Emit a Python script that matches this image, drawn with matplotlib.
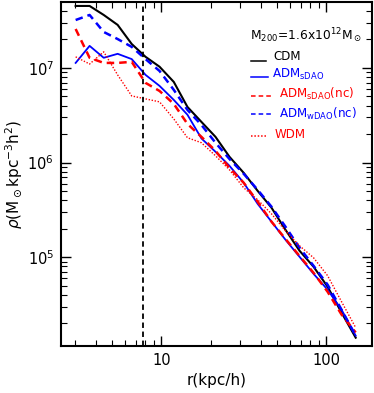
import matplotlib
matplotlib.use('Agg')
import matplotlib.pyplot as plt
from matplotlib.ticker import FuncFormatter, NullFormatter

plt.rcParams['font.family'] = ['DejaVu Sans']
plt.rcParams['mathtext.fontset'] = 'dejavusans'

# radius bins (kpc/h)
r = [3.02, 3.67, 4.47, 5.43, 6.61, 8.02, 9.75, 11.9, 14.4, 17.5, 21.3,
     25.9, 31.6, 38.4, 46.6, 56.6, 68.9, 83.8, 102, 124, 151]

rho_cdm = [4.52e7, 4.52e7, 3.63e7, 2.85e7, 1.79e7, 1.31e7, 1.03e7, 7.11e6,
           3.87e6, 2.69e6, 1.87e6, 1.15e6, 7.78e5, 5.02e5, 3.33e5, 1.95e5,
           1.17e5, 7.93e4, 4.87e4, 2.59e4, 1.41e4]
rho_sdao = [1.13e7, 1.71e7, 1.28e7, 1.41e7, 1.24e7, 8.44e6, 6.46e6, 4.59e6,
            3.20e6, 1.80e6, 1.30e6, 9.23e5, 6.11e5, 3.66e5, 2.37e5, 1.53e5,
            1.01e5, 6.68e4, 4.53e4, 2.78e4, 1.48e4]
rho_sdao_nc = [2.58e7, 1.28e7, 1.13e7, 1.13e7, 1.16e7, 6.95e6, 5.71e6, 4.17e6,
               2.56e6, 1.87e6, 1.33e6, 8.79e5, 6.11e5, 3.85e5, 2.37e5, 1.56e5,
               1.03e5, 6.84e4, 4.31e4, 2.47e4, 1.6e4]
rho_wdao_nc = [3.21e7, 3.63e7, 2.40e7, 2.02e7, 1.67e7, 1.24e7, 9.29e6, 5.86e6,
               3.60e6, 2.50e6, 1.62e6, 1.09e6, 7.60e5, 5.15e5, 3.41e5, 2.10e5,
               1.26e5, 8.11e4, 5.12e4, 2.78e4, 1.48e4]
rho_wdm = [1.31e7, 1.10e7, 1.48e7, 8.44e6, 5.06e6, 4.71e6, 4.38e6, 2.89e6,
           1.83e6, 1.62e6, 1.18e6, 8.38e5, 5.41e5, 4.04e5, 2.87e5, 1.90e5,
           1.32e5, 9.87e4, 6.37e4, 3.38e4, 1.80e4]

r_cut = 7.7

labels = ['CDM', r'ADM$_{\rm sDAO}$', r'ADM$_{\rm sDAO}$(nc)',
          r'ADM$_{\rm wDAO}$(nc)', 'WDM']
colors = ['black', 'blue', 'red', 'blue', 'red']
dash = (0, (3, 2))
dot = (0, (1, 1.2))
styles = ['-', '-', dash, dash, dot]

fig = plt.figure(figsize=(3.74, 3.93), dpi=100)
ax = fig.add_axes([0.163, 0.12, 0.832, 0.875])

ax.plot(r, rho_cdm, color='black', lw=1.5)
ax.plot(r, rho_sdao, color='blue', lw=1.3)
ax.plot(r, rho_sdao_nc, color='red', lw=1.8, ls=dash)
ax.plot(r, rho_wdao_nc, color='blue', lw=1.8, ls=dash)
ax.plot(r, rho_wdm, color='red', lw=1.0, ls=dot)
ax.axvline(r_cut, color='black', lw=1.3, ls=dash)

ax.set_xscale('log')
ax.set_yscale('log')
ax.set_xlim(2.46, 190)
ax.set_ylim(1.156e4, 4.98e7)
ax.xaxis.set_major_formatter(FuncFormatter(lambda v, p: '%g' % v))
ax.xaxis.set_minor_formatter(NullFormatter())

ax.set_xlabel('r(kpc/h)', fontsize=11, labelpad=4)
ax.set_ylabel(r'$\rho$(M$_\odot$kpc$^{-3}$h$^2$)', fontsize=11, labelpad=2)

for s in ax.spines.values():
    s.set_linewidth(1.5)
ax.tick_params(which='both', direction='in', top=True, right=True, labelsize=10.5)
ax.tick_params(which='major', length=7, width=1.0, pad=5)
ax.tick_params(which='minor', length=4, width=0.8)

# legend, drawn by hand (pixel positions from the reference)
def fx(px):
    return (px - 61) / 311.0

def fy(py):
    return (346 - py) / 344.0

ax.text(fx(250), fy(36), r'M$_{200}$=1.6x10$^{12}$M$_\odot$', transform=ax.transAxes,
        fontsize=8.8, ha='left', va='center')

text_y = [57, 75, 94, 114, 135]
line_y = [61, 77, 96, 114, 136]
line_x1 = [266, 268, 272, 272, 267]
text_x = [273, 272, 279, 279, 275]
for i in range(5):
    ax.plot([fx(251), fx(line_x1[i])], [fy(line_y[i])] * 2, transform=ax.transAxes,
            color=colors[i], ls=styles[i], lw=1.1, clip_on=False)
    ax.text(fx(text_x[i]), fy(text_y[i]), labels[i], transform=ax.transAxes,
            color=colors[i], fontsize=8.6, ha='left', va='center')

fig.savefig('out.png', dpi=100)
